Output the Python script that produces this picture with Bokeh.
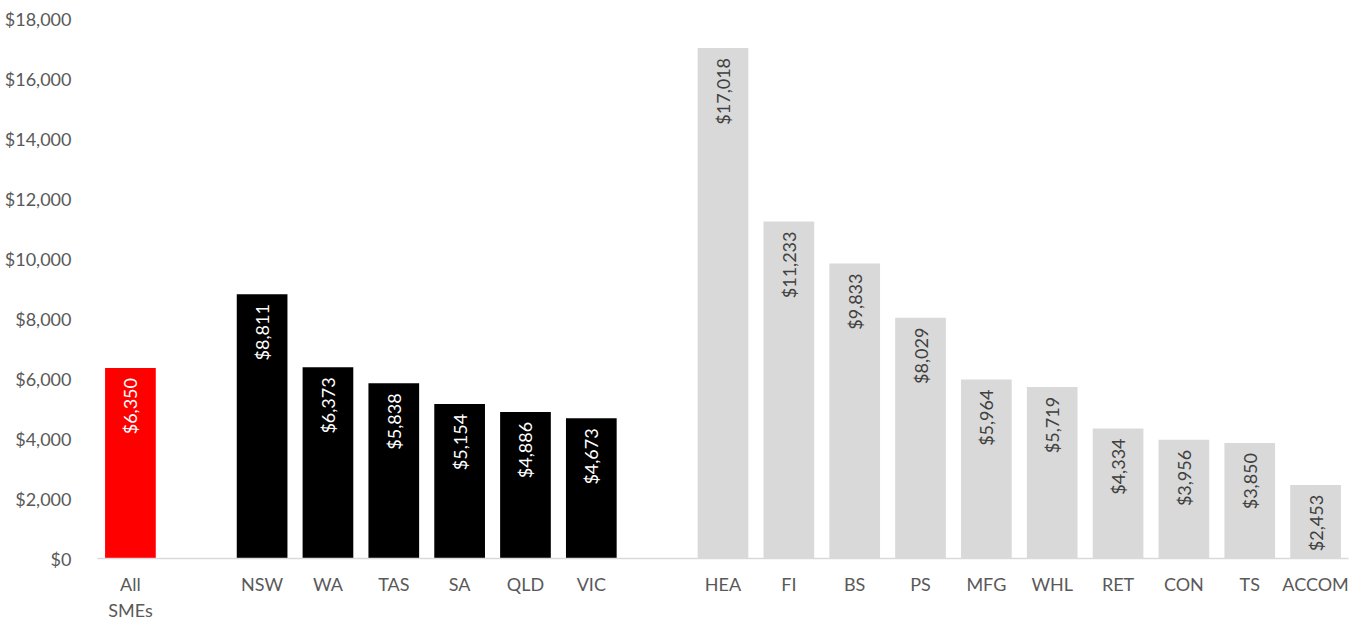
import math
from bokeh.plotting import figure
from bokeh.models import ColumnDataSource, FactorRange, FixedTicker, NumeralTickFormatter
from bokeh.core.properties import value
from bokeh.embed import file_html
from bokeh.resources import INLINE

categories = ["All\nSMEs", " ", "NSW", "WA", "TAS", "SA", "QLD", "VIC", "  ",
              "HEA", "FI", "BS", "PS", "MFG", "WHL", "RET", "CON", "TS", "ACCOM"]
values = [6350, None, 8811, 6373, 5838, 5154, 4886, 4673, None,
          17018, 11233, 9833, 8029, 5964, 5719, 4334, 3956, 3850, 2453]
groups = ["all", None, "state", "state", "state", "state", "state", "state", None,
          "ind", "ind", "ind", "ind", "ind", "ind", "ind", "ind", "ind", "ind"]
y_ticks = list(range(0, 18001, 2000))

fill_map = {"all": "#FF0000", "state": "#000000", "ind": "#D9D9D9"}
label_map = {"all": "#FFFFFF", "state": "#FFFFFF", "ind": "#404040"}

xs, ys, fills, lcols, labels = [], [], [], [], []
for c, v, g in zip(categories, values, groups):
    if v is None:
        continue
    xs.append(c)
    ys.append(v)
    fills.append(fill_map[g])
    lcols.append(label_map[g])
    labels.append("${:,}".format(v))

src = ColumnDataSource(dict(x=xs, y=ys, fill=fills, lcol=lcols, label=labels))

FONT = "Lato"
p = figure(width=1360, height=623, x_range=FactorRange(*categories, range_padding=0),
           y_range=(0, 18000), output_backend="svg", toolbar_location=None,
           min_border_left=97, min_border_right=12, min_border_top=18, min_border_bottom=65)

p.vbar(x="x", top="y", width=0.77, source=src, fill_color="fill", line_color=None)
p.text(x="x", y="y", text="label", source=src, angle=math.pi / 2,
       text_align="right", text_baseline="middle", y_offset=10,
       text_color="lcol", text_font=value(FONT), text_font_size="18px")

p.outline_line_color = None
p.xgrid.grid_line_color = None
p.ygrid.grid_line_color = None

p.yaxis.ticker = FixedTicker(ticks=y_ticks)
p.yaxis.formatter = NumeralTickFormatter(format="$0,0")
p.yaxis.axis_line_color = None
p.yaxis.major_tick_line_color = None
p.yaxis.minor_tick_line_color = None
p.yaxis.major_label_standoff = 20
p.yaxis.major_label_text_font = FONT
p.yaxis.major_label_text_font_size = "18px"
p.yaxis.major_label_text_color = "#595959"

p.xaxis.axis_line_color = "#D9D9D9"
p.xaxis.axis_line_width = 1.5
p.xaxis.major_tick_line_color = None
p.xaxis.minor_tick_line_color = None
p.xaxis.major_label_standoff = 8
p.xaxis.major_label_text_font = FONT
p.xaxis.major_label_text_font_size = "18px"
p.xaxis.major_label_text_color = "#595959"

open("out.html", "w").write(file_html(p, INLINE))
